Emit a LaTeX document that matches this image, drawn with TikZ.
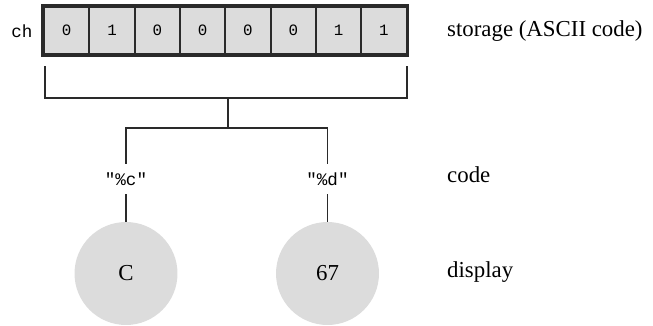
\documentclass[tikz,border=0pt]{standalone}
\usepackage{fontspec}
\setmainfont{Liberation Serif}
\setmonofont{Liberation Mono}
\usepackage{tikz}
\tikzset{>=stealth}
\definecolor{cellgray}{HTML}{DCDCDC}
\definecolor{ink}{HTML}{2A2A2A}

\begin{document}
\begin{tikzpicture}[x=0.02cm,y=-0.02cm,
    cell/.style={draw=ink,line width=1.1pt,fill=cellgray,minimum width=0.906cm,minimum height=0.94cm,inner sep=0pt,font=\ttfamily\fontsize{9}{10}\selectfont},
    dot/.style={circle,fill=cellgray,minimum size=2.06cm,inner sep=0pt,font=\fontsize{13}{15}\selectfont},
    fmt/.style={inner sep=0pt,minimum height=0.6cm,font=\ttfamily\fontsize{10}{12}\selectfont},
    side/.style={anchor=west,font=\fontsize{13}{15}\selectfont}]
      \useasboundingbox (0,0) rectangle (653,325);
      \foreach \bit [count=\i] in {0,1,0,0,0,0,1,1}
        \node[cell] (b\i) at ({44+45.33*(\i-0.5)},30.5) {\bit};
      \draw[ink,line width=1.8pt] (b1.north west) rectangle (b8.south east);
      \node[font=\ttfamily\fontsize{10}{12}\selectfont] (ch) at (22,31) {ch};
      \coordinate (bl) at (45,66);
      \coordinate (br) at (407,66);
      \coordinate (bb) at (228,98);
      \coordinate (hub) at (228,128);
      \node[fmt] (fc) at (126,179) {"\%c"};
      \node[fmt] (fd) at (327.5,179) {"\%d"};
      \node[dot] (dc) at (126,273.5) {C};
      \node[dot] (dd) at (327.5,273.5) {67};
      \draw[ink,line width=0.6pt] (bl) |- (bb) -| (br);
      \draw[ink,line width=0.6pt] (bb) -- (hub);
      \draw[ink,line width=0.6pt] (fc.north) |- (hub) -| (fd.north);
      \draw[ink,line width=0.6pt] (fc.south) -- (dc.north);
      \draw[ink,line width=0.6pt] (fd.south) -- (dd.north);
      \node[side] (st) at (441,31) {storage (ASCII code)};
      \node[side] (co) at (441,175) {code};
      \node[side] (di) at (441,272) {display};
\end{tikzpicture}
\end{document}
